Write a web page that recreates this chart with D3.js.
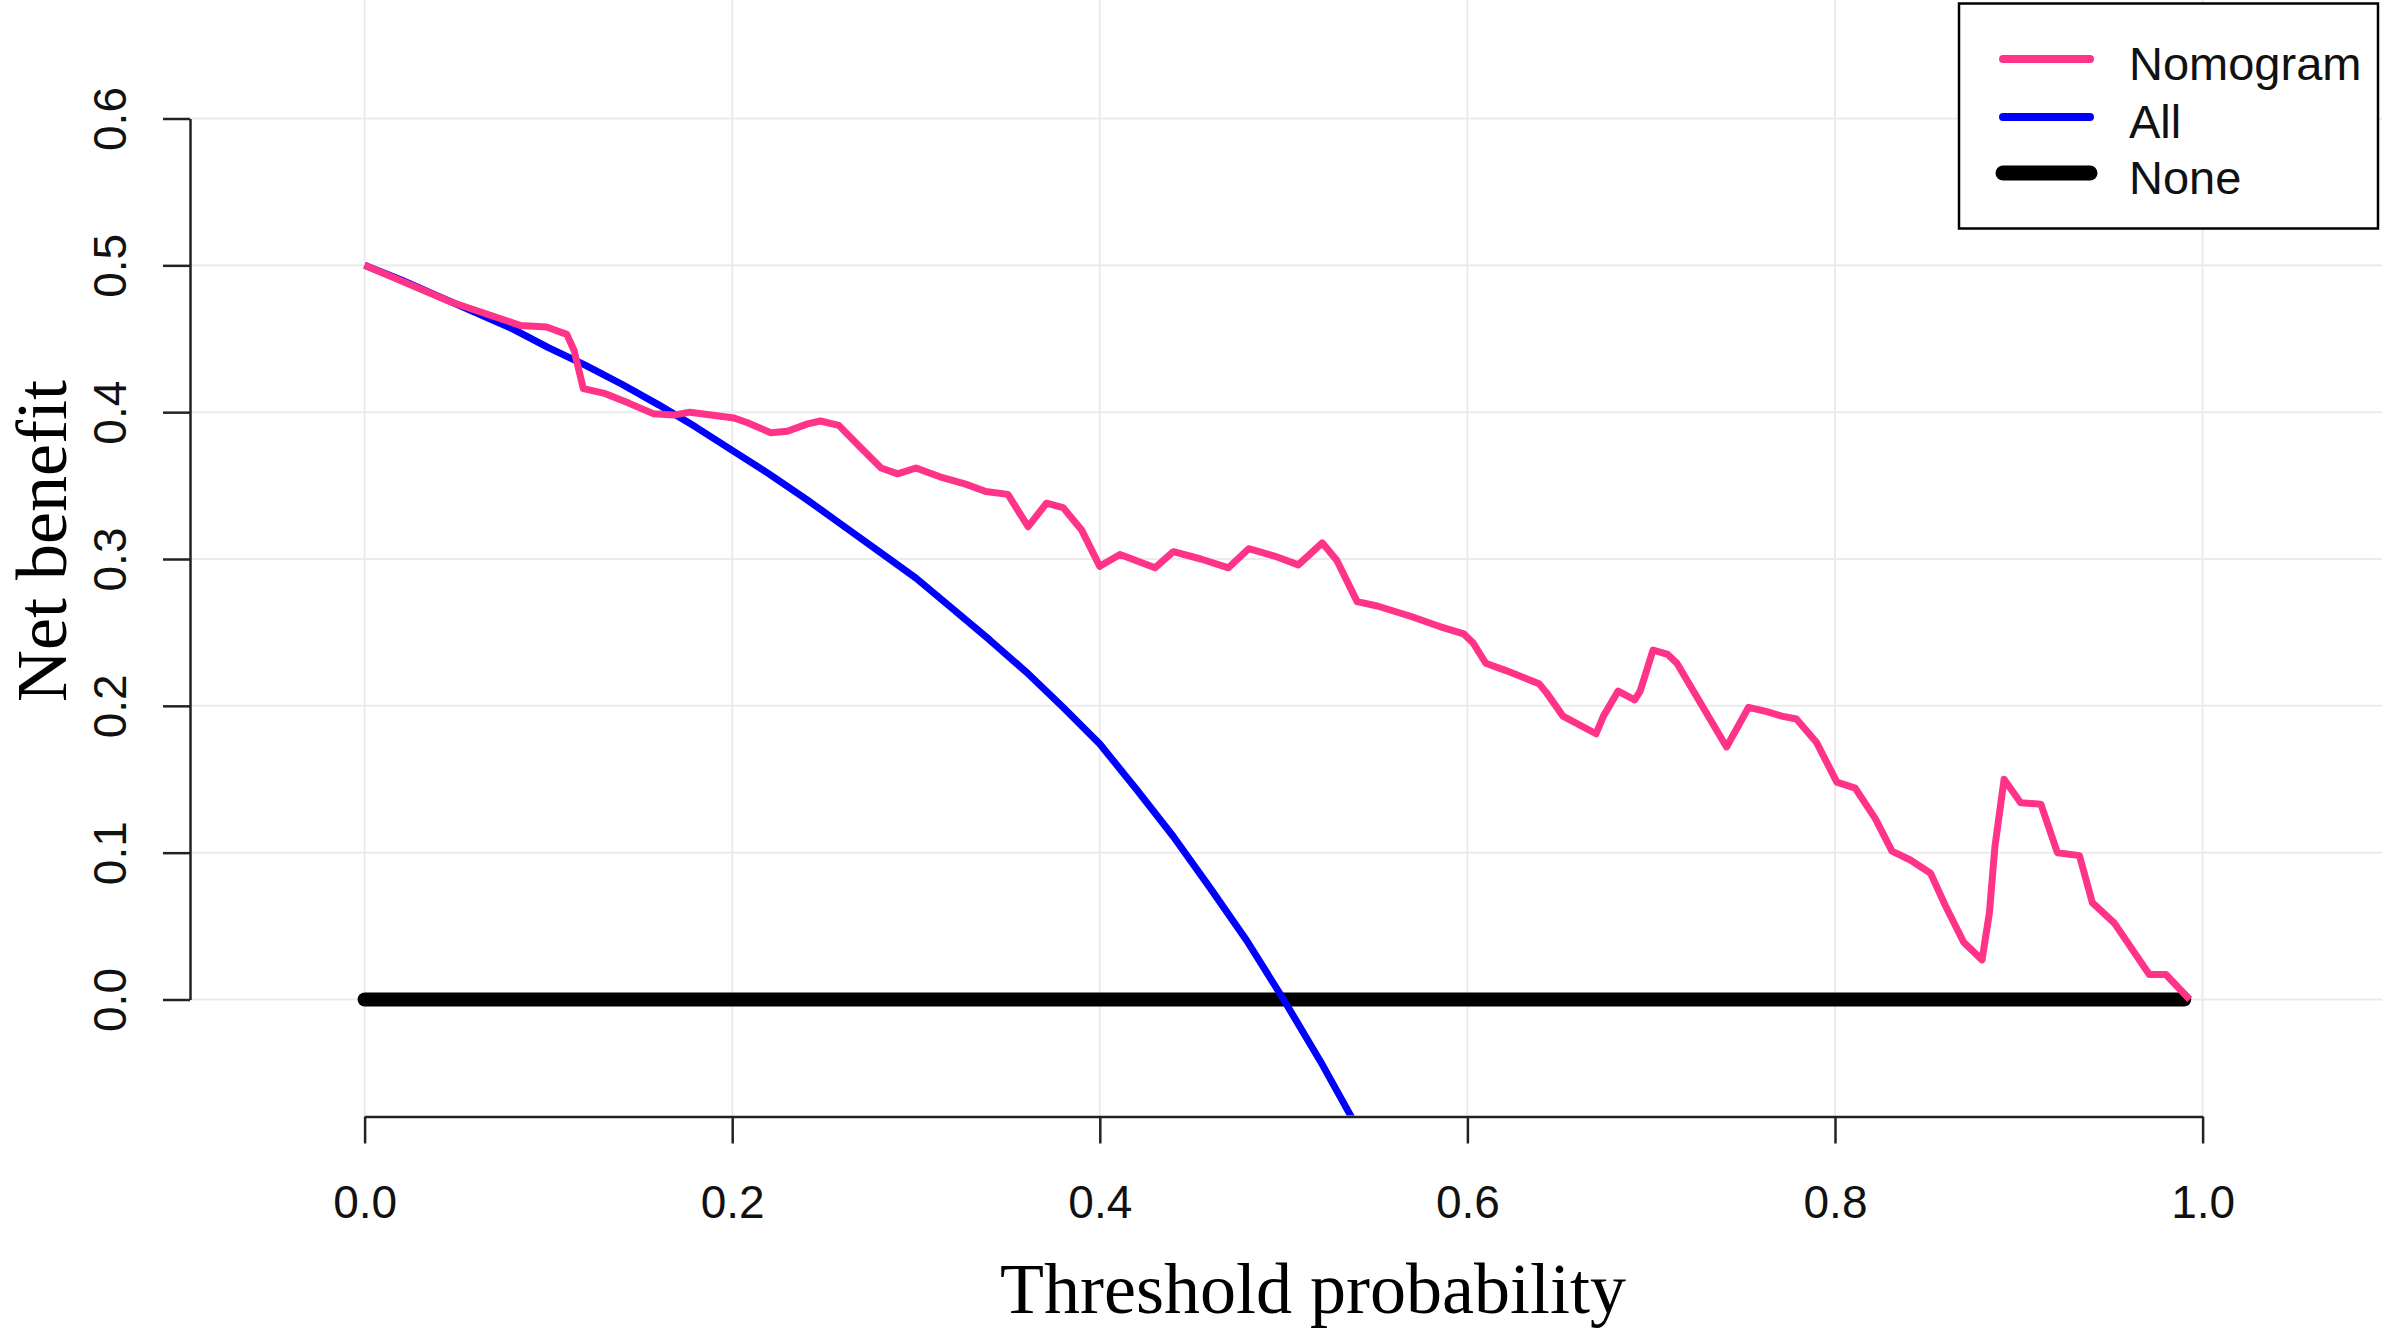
<!DOCTYPE html>
<html>
<head>
<meta charset="utf-8">
<script src="https://cdn.jsdelivr.net/npm/d3@7"></script>
<style>
  body { margin: 0; background: #fff; }
  text { font-family: "Liberation Sans", Arial, sans-serif; }
</style>
</head>
<body>
<svg id="chart" width="2382" height="1330"></svg>
<script>
// threshold probabilities and net benefit
var nomoThr = [0.000,0.047,0.085,0.099,0.110,0.114,0.119,0.130,0.144,0.157,0.168,0.177,0.201,0.208,0.221,0.230,0.241,0.248,0.258,0.269,
  0.281,0.290,0.300,0.313,0.327,0.338,0.350,0.361,0.371,0.380,0.390,0.400,0.411,0.430,0.440,0.455,0.470,0.481,0.495,0.508,
  0.521,0.529,0.540,0.551,0.569,0.585,0.598,0.603,0.610,0.621,0.639,0.643,0.652,0.670,0.674,0.682,0.691,0.694,0.701,0.709,
  0.714,0.741,0.753,0.763,0.771,0.779,0.790,0.801,0.811,0.822,0.831,0.841,0.852,0.860,0.870,0.880,0.884,0.887,0.892,0.901,
  0.912,0.921,0.933,0.940,0.952,0.971,0.980,0.993];
var nomoNB = [0.500,0.475,0.459,0.458,0.453,0.442,0.416,0.413,0.406,0.399,0.398,0.400,0.396,0.393,0.386,0.387,0.392,0.394,0.391,0.377,
  0.362,0.358,0.362,0.356,0.351,0.346,0.344,0.322,0.338,0.335,0.320,0.295,0.303,0.294,0.305,0.300,0.294,0.307,0.302,0.296,
  0.311,0.299,0.271,0.268,0.261,0.254,0.249,0.243,0.229,0.224,0.215,0.209,0.193,0.181,0.193,0.210,0.204,0.210,0.238,0.235,
  0.229,0.172,0.199,0.196,0.193,0.191,0.175,0.148,0.144,0.123,0.101,0.095,0.086,0.064,0.039,0.027,0.059,0.104,0.150,0.134,
  0.133,0.100,0.098,0.066,0.052,0.017,0.017,0.000];

var allThr = [0,0.02,0.04,0.06,0.08,0.10,0.12,0.14,0.16,0.18,0.20,0.22,0.24,0.26,0.28,0.30,0.32,0.34,0.36,0.38,0.40,0.42,0.44,0.46,0.48,0.50,0.52,0.54];
var allNB = [0.500,0.490,0.479,0.468,0.457,0.444,0.432,0.419,0.405,0.390,0.374,0.358,0.341,0.323,0.305,0.287,0.266,0.245,0.223,0.199,
  0.174,0.143,0.111,0.076,0.040,0.000,-0.042,-0.087];

var noneThr = [0, 0.99];
var noneNB = [0, 0];

var xTicks = [0, 0.2, 0.4, 0.6, 0.8, 1.0];
var yTicks = [0, 0.1, 0.2, 0.3, 0.4, 0.5, 0.6];

var legendNames = ["Nomogram", "All", "None"];
var legendColors = ["#ff3388", "#0000ff", "#000000"];
var legendWidths = [7, 7, 14];

var svg = d3.select("#chart");
var x = d3.scaleLinear().domain([0, 1]).range([364.6, 2202.6]);
var y = d3.scaleLinear().domain([0, 0.6]).range([999.5, 118.5]);

var axisY = 1116.5, axisX = 190;

// grid
svg.append("g").selectAll("line").data(xTicks).enter().append("line")
  .attr("x1", d => x(d)).attr("x2", d => x(d))
  .attr("y1", 0).attr("y2", axisY)
  .attr("stroke", "#ebebeb").attr("stroke-width", 2);
svg.append("g").selectAll("line").data(yTicks).enter().append("line")
  .attr("x1", axisX).attr("x2", 2382)
  .attr("y1", d => y(d)).attr("y2", d => y(d))
  .attr("stroke", "#ebebeb").attr("stroke-width", 2);

// axes
var gx = svg.append("g").attr("transform", "translate(0," + axisY + ")")
  .call(d3.axisBottom(x).tickValues(xTicks).tickFormat(d3.format(".1f")).tickSize(27).tickSizeOuter(0));
gx.selectAll("text").attr("y", 101).attr("dy", 0).style("font-size", "46px").attr("fill", "#111");

var gy = svg.append("g").attr("transform", "translate(" + axisX + ",0)")
  .call(d3.axisLeft(y).tickValues(yTicks).tickFormat(d3.format(".1f")).tickSize(27).tickSizeOuter(0));
gy.selectAll("text").attr("transform", "rotate(-90)").attr("x", 0).attr("y", -64).attr("dy", 0)
  .attr("text-anchor", "middle").style("font-size", "46px").attr("fill", "#111");

[gx, gy].forEach(function(g) {
  g.select(".domain").attr("stroke", "#222").attr("stroke-width", 2.5);
  g.selectAll(".tick line").attr("stroke", "#222").attr("stroke-width", 2.5);
});

// axis titles
svg.append("text").text("Threshold probability")
  .attr("x", 1313).attr("y", 1313).attr("text-anchor", "middle")
  .style("font-family", "'Liberation Serif', 'Times New Roman', serif").style("font-size", "72px");
svg.append("text").text("Net benefit")
  .attr("transform", "translate(66,541) rotate(-90)").attr("text-anchor", "middle")
  .style("font-family", "'Liberation Serif', 'Times New Roman', serif").style("font-size", "72px");

// lines
svg.append("clipPath").attr("id", "plotclip").append("rect")
  .attr("x", axisX).attr("y", 0).attr("width", 2382 - axisX).attr("height", axisY - 1);

var line = d3.line().x(d => x(d[0])).y(d => y(d[1]));
var plot = svg.append("g").attr("clip-path", "url(#plotclip)");

plot.append("path").datum(d3.zip(noneThr, noneNB)).attr("d", line)
  .attr("fill", "none").attr("stroke", legendColors[2]).attr("stroke-width", legendWidths[2]).attr("stroke-linecap", "round");
plot.append("path").datum(d3.zip(allThr, allNB)).attr("d", line)
  .attr("fill", "none").attr("stroke", legendColors[1]).attr("stroke-width", legendWidths[1]).attr("stroke-linejoin", "round");
plot.append("path").datum(d3.zip(nomoThr, nomoNB)).attr("d", line)
  .attr("fill", "none").attr("stroke", legendColors[0]).attr("stroke-width", legendWidths[0]).attr("stroke-linejoin", "round");

// legend
var lg = svg.append("g");
lg.append("rect").attr("x", 1959).attr("y", 3.5).attr("width", 419).attr("height", 225)
  .attr("fill", "#fff").attr("stroke", "#000").attr("stroke-width", 2.5);
var rows = lg.selectAll("g.row").data(legendNames).enter().append("g")
  .attr("transform", (d, i) => "translate(0," + [59, 117, 173][i] + ")");
rows.append("line").attr("x1", 2003).attr("x2", 2090)
  .attr("stroke", (d, i) => legendColors[i]).attr("stroke-width", (d, i) => legendWidths[i] + 1)
  .attr("stroke-linecap", "round");
rows.append("text").text(d => d).attr("x", 2129).attr("y", 21)
  .style("font-size", "47px").attr("fill", "#111");
</script>
</body>
</html>
